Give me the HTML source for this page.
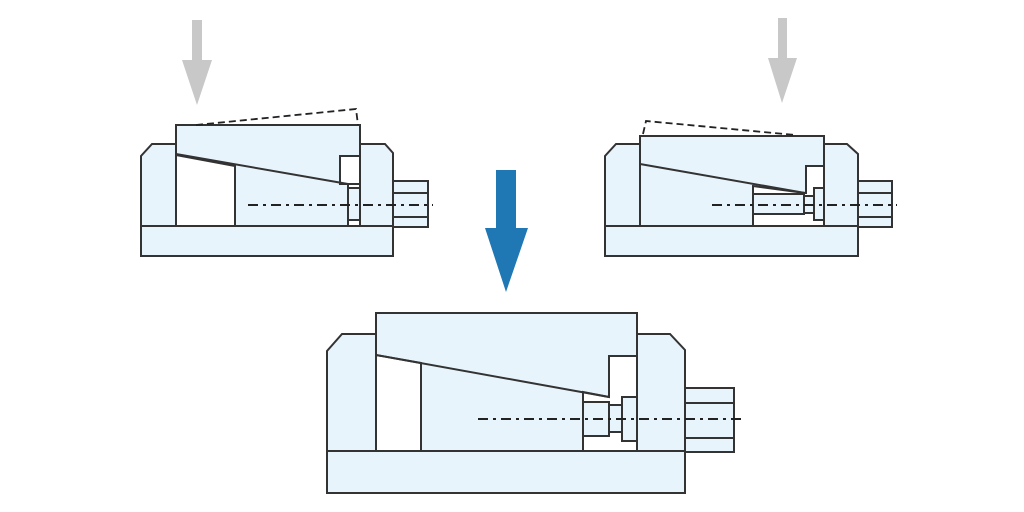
<!DOCTYPE html>
<html><head><meta charset="utf-8"><style>html,body{margin:0;padding:0;background:#fff}svg{display:block}</style></head>
<body>
<svg width="1024" height="512" viewBox="0 0 1024 512" xmlns="http://www.w3.org/2000/svg">
<g fill="#e8f4fc" stroke="#333" stroke-width="2" stroke-linejoin="miter">
<!-- Diagram 1 -->
<rect x="141" y="226" width="252" height="30"/>
<polygon points="141,226 141,156 152,144 176,144 176,226"/>
<polygon points="360,226 360,144 385,144 393,153 393,226"/>
<rect x="176" y="125" width="184" height="101"/>
<polygon points="176,155 235,166 235,226 176,226" fill="#fff"/>
<rect x="340" y="156" width="20" height="28" fill="#fff"/>
<rect x="348" y="184" width="12" height="42" fill="#fff"/>
<rect x="348" y="188" width="12" height="32"/>
<rect x="393" y="181" width="35" height="46"/>
<line x1="393" y1="193" x2="428" y2="193"/>
<line x1="393" y1="217" x2="428" y2="217"/>
<!-- Diagram 2 -->
<rect x="605" y="226" width="253" height="30"/>
<polygon points="605,226 605,156 616,144 640,144 640,226"/>
<polygon points="824,226 824,144 847,144 858,154 858,226"/>
<rect x="640" y="136" width="184" height="90"/>
<polygon points="753,186 805,193 806,193 806,166 824,166 824,226 753,226" fill="#fff"/>
<rect x="753" y="194" width="51" height="20"/>
<rect x="804" y="196" width="10" height="17"/>
<rect x="814" y="188" width="10" height="32"/>
<rect x="858" y="181" width="34" height="46"/>
<line x1="858" y1="193" x2="892" y2="193"/>
<line x1="858" y1="217" x2="892" y2="217"/>
<!-- Diagram 3 -->
<rect x="327" y="451" width="358" height="42"/>
<polygon points="327,451 327,351 342,334 376,334 376,451"/>
<polygon points="637,451 637,334 670,334 685,350 685,451"/>
<rect x="376" y="313" width="261" height="138"/>
<polygon points="376,355 421,363 421,451 376,451" fill="#fff"/>
<polygon points="583,392 609,397 609,356 637,356 637,451 583,451" fill="#fff"/>
<rect x="583" y="402" width="26" height="34"/>
<rect x="609" y="405" width="13" height="27"/>
<rect x="622" y="397" width="15" height="44"/>
<rect x="685" y="388" width="49" height="64"/>
<line x1="685" y1="403" x2="734" y2="403"/>
<line x1="685" y1="438" x2="734" y2="438"/>
</g>
<g fill="none" stroke="#333" stroke-width="2">
<line x1="176" y1="154" x2="348" y2="184"/>
<line x1="235" y1="166" x2="235" y2="226"/>
<line x1="640" y1="164" x2="805" y2="193"/>
<line x1="753" y1="186" x2="753" y2="226"/>
<line x1="376" y1="355" x2="609" y2="397"/>
<line x1="421" y1="363" x2="421" y2="451"/>
<line x1="583" y1="392" x2="583" y2="451"/>
</g>
<g fill="none" stroke="#222" stroke-width="2" stroke-dasharray="10,5,3,5">
<line x1="248" y1="205" x2="433" y2="205"/>
<line x1="712" y1="205" x2="897" y2="205"/>
<line x1="478" y1="419" x2="745" y2="419"/>
</g>
<g fill="none" stroke="#222" stroke-width="1.8" stroke-dasharray="7,4">
<polyline points="196,125 356,109 358,125"/>
<polyline points="643,134 646,121 795,135"/>
</g>
<polygon points="192,20 202,20 202,60 212,60 197,105 182,60 192,60" fill="#c8c8c8"/>
<polygon points="778,18 787,18 787,58 797,58 782,103 768,58 778,58" fill="#c8c8c8"/>
<polygon points="496,170 516,170 516,228 528,228 506,292 485,228 496,228" fill="#1f77b4"/>
</svg>
</body></html>
